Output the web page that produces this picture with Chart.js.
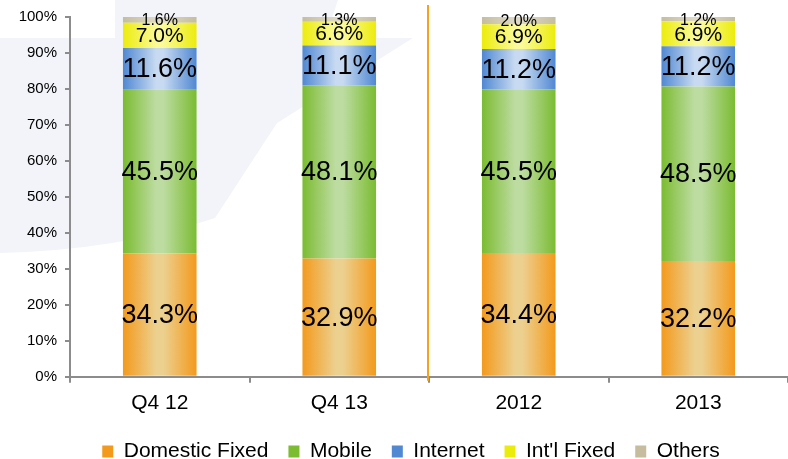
<!DOCTYPE html>
<html>
<head>
<meta charset="utf-8">
<script src="https://cdn.jsdelivr.net/npm/chart.js@4.4.1/dist/chart.umd.min.js"></script>
<style>
  html, body { margin: 0; padding: 0; background: #fff; }
  #wrap { width: 788px; height: 459px; position: relative; }
</style>
</head>
<body>
<div id="wrap"><canvas id="chart"></canvas></div>
<script>
const FONT = "'Liberation Sans', Arial, sans-serif";

const categories = ["Q4 12", "Q4 13", "2012", "2013"];
const domestic   = [34.3, 32.9, 34.4, 32.2];
const mobile     = [45.5, 48.1, 45.5, 48.5];
const internet   = [11.6, 11.1, 11.2, 11.2];
const intl       = [7.0, 6.6, 6.9, 6.9];
const others     = [1.6, 1.3, 2.0, 1.2];

const BAR_PCT = 0.41;

// edge colour, centre colour, label size
const SERIES = [
  { label: "Domestic Fixed", data: domestic, edge: "#f39a1c", mid: "#ecd08f", size: 27 },
  { label: "Mobile",         data: mobile,   edge: "#7bbc31", mid: "#bddca1", size: 27 },
  { label: "Internet",       data: internet, edge: "#5088d2", mid: "#c7daf1", size: 27 },
  { label: "Int'l Fixed",    data: intl,     edge: "#ecec0c", mid: "#fafa98", size: 21 },
  { label: "Others",         data: others,   edge: "#c5bd9e", mid: "#ddd9c6", size: 16 },
];

function barFill(s) {
  return ctx => {
    const chart = ctx.chart;
    const xs = chart.scales && chart.scales.x;
    if (!chart.chartArea || !xs || ctx.dataIndex === undefined) return s.edge;
    const cx = xs.getPixelForValue(ctx.dataIndex);
    const w = xs.width / categories.length * BAR_PCT;
    const g = chart.ctx.createLinearGradient(cx - w / 2, 0, cx + w / 2, 0);
    g.addColorStop(0, s.edge);
    g.addColorStop(0.45, s.mid);
    g.addColorStop(0.55, s.mid);
    g.addColorStop(1, s.edge);
    return g;
  };
}

// faint background watermark
const watermark = {
  id: "watermark",
  beforeDraw(chart) {
    const c = chart.ctx;
    c.save();
    c.fillStyle = "#f2f4f9";
    c.beginPath();
    c.moveTo(0, 38);
    c.lineTo(115, 38);
    c.lineTo(115, 0);
    c.lineTo(338, 0);
    c.lineTo(325, 38);
    c.lineTo(413, 38);
    c.lineTo(277, 123);
    c.lineTo(215, 218);
    c.quadraticCurveTo(120, 250, 0, 253);
    c.closePath();
    c.fill();
    c.restore();
  }
};

// legend sits a little right of centre in the original
const legendShift = {
  id: "legendShift",
  afterLayout(chart) {
    chart.legend.left += 17;
    chart.legend.right += 17;
  }
};

// orange divider between quarter and annual bars
const divider = {
  id: "divider",
  afterDatasetsDraw(chart) {
    const xs = chart.scales.x, a = chart.chartArea, c = chart.ctx;
    const x = (xs.getPixelForValue(1) + xs.getPixelForValue(2)) / 2 - 1;
    c.save();
    c.strokeStyle = "#f7a21b";
    c.lineWidth = 2;
    c.beginPath();
    c.moveTo(x, a.top - 12);
    c.lineTo(x, a.bottom + 4);
    c.stroke();
    c.restore();
  }
};

// value labels centred in each segment
const valueLabels = {
  id: "valueLabels",
  afterDatasetsDraw(chart) {
    const c = chart.ctx;
    c.save();
    c.fillStyle = "#000";
    c.textAlign = "center";
    c.textBaseline = "middle";
    chart.data.datasets.forEach((ds, i) => {
      const meta = chart.getDatasetMeta(i);
      c.font = `${SERIES[i].size}px ${FONT}`;
      meta.data.forEach((el, j) => {
        const p = el.getCenterPoint();
        c.fillText(ds.data[j].toFixed(1) + "%", p.x, p.y + 1);
      });
    });
    c.restore();
  }
};

new Chart(document.getElementById("chart"), {
  type: "bar",
  data: {
    labels: categories,
    datasets: SERIES.map(s => ({
      label: s.label,
      data: s.data,
      backgroundColor: barFill(s),
      borderWidth: 0,
      barPercentage: BAR_PCT,
      categoryPercentage: 1,
    })),
  },
  options: {
    responsive: true,
    maintainAspectRatio: false,
    animation: false,
    layout: { padding: { top: 17, right: 0, left: 0, bottom: -13 } },
    scales: {
      x: {
        stacked: true,
        afterFit: s => { s.height -= 3; },
        grid: { drawOnChartArea: false, drawTicks: true, tickLength: 6, color: "#8c8c8c", lineWidth: 2, offset: true },
        border: { color: "#8c8c8c", width: 2 },
        ticks: { color: "#000", font: { family: FONT, size: 21 }, padding: 8 },
      },
      y: {
        stacked: true,
        min: 0, max: 100,
        afterFit: s => { s.width = 70; },
        grid: { drawOnChartArea: false, drawTicks: true, tickLength: 5, color: "#8c8c8c", lineWidth: 2 },
        border: { color: "#8c8c8c", width: 2 },
        ticks: { stepSize: 10, color: "#000", font: { family: FONT, size: 15 }, padding: 8, callback: v => v + "%" },
      },
    },
    plugins: {
      tooltip: { enabled: false },
      legend: {
        position: "bottom",
        labels: {
          color: "#000",
          font: { family: FONT, size: 21 },
          boxWidth: 11,
          boxHeight: 12,
          padding: 20,
          generateLabels: chart => SERIES.map((s, i) => ({
            text: s.label, fillStyle: s.edge, strokeStyle: s.edge, lineWidth: 0, datasetIndex: i, hidden: false,
          })),
        },
      },
    },
  },
  plugins: [watermark, legendShift, divider, valueLabels],
});
</script>
</body>
</html>
